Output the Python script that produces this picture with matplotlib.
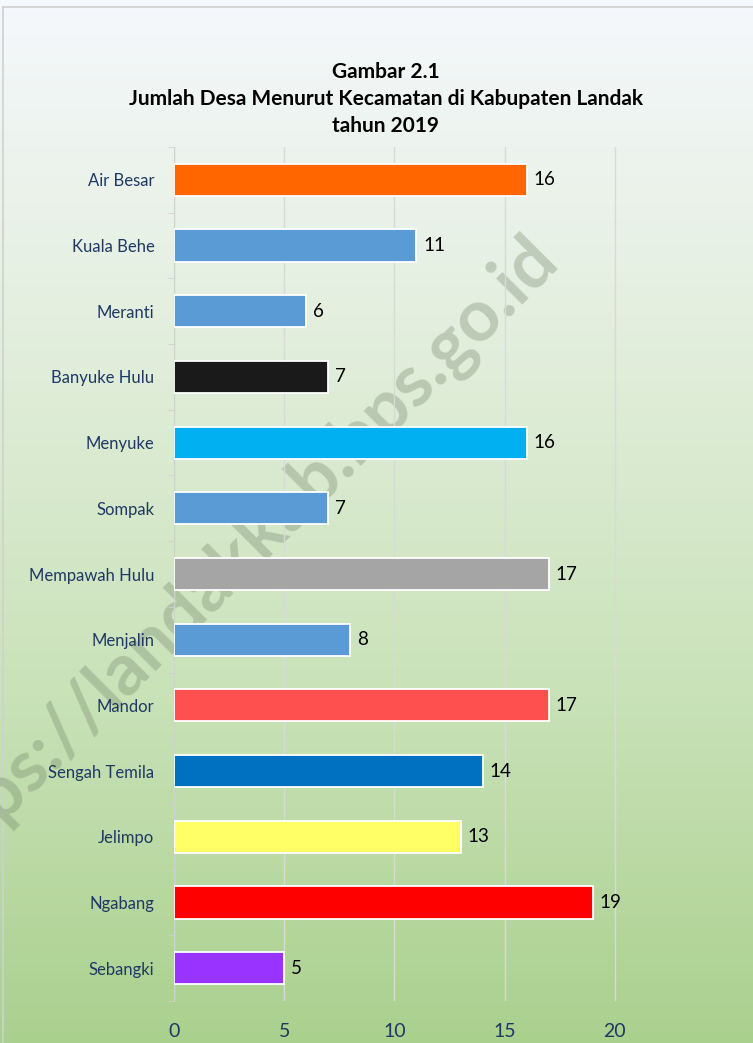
import numpy as np
import matplotlib.pyplot as plt
from matplotlib.colors import LinearSegmentedColormap

# data
kecamatan = ['Air Besar', 'Kuala Behe', 'Meranti', 'Banyuke Hulu', 'Menyuke',
             'Sompak', 'Mempawah Hulu', 'Menjalin', 'Mandor', 'Sengah Temila',
             'Jelimpo', 'Ngabang', 'Sebangki']
jumlah_desa = [16, 11, 6, 7, 16, 7, 17, 8, 17, 14, 13, 19, 5]
bar_colors = ['#ff6600', '#5b9bd5', '#5b9bd5', '#1a1a1a', '#00b0f0',
              '#5b9bd5', '#a5a5a5', '#5b9bd5', '#ff5050', '#0070c0',
              '#ffff66', '#ff0000', '#9933ff']
x_ticks = [0, 5, 10, 15, 20]

plt.rcParams['font.family'] = ['Lato', 'DejaVu Sans']

fig = plt.figure(figsize=(7.53, 10.43), dpi=100)

# gradient background
bg = fig.add_axes([0, 0, 1, 1], zorder=-10)
cmap = LinearSegmentedColormap.from_list('bg', ['#f5f8fc', '#e2eedc', '#c9e2b8', '#aad08e'])
grad = np.linspace(0, 1, 256).reshape(-1, 1)
bg.imshow(grad, aspect='auto', cmap=cmap, extent=[0, 1, 0, 1], origin='upper')
bg.plot([0.004, 0.004], [0, 0.993], color='#d0d0d0', lw=1.2)
bg.plot([0.004, 1], [0.993, 0.993], color='#d0d0d0', lw=1.2)
bg.set_xlim(0, 1)
bg.set_ylim(0, 1)
bg.axis('off')

# watermark (sits behind the bars)
fig.text(560 / 753, 1 - 262 / 1043, 'https://landakkab.bps.go.id', fontsize=52,
         fontweight='bold', color='#6f8066', alpha=0.33, rotation=45,
         rotation_mode='anchor', ha='right', va='baseline', zorder=-5)

ax = fig.add_axes([174 / 753, 1 - 1001 / 1043, 540 / 753, 854 / 1043])
ax.patch.set_alpha(0)
y = np.arange(len(kecamatan))
ax.barh(y, jumlah_desa, height=0.49, color=bar_colors,
        edgecolor='white', linewidth=1.3, zorder=3)
for yi, v in zip(y, jumlah_desa):
    ax.text(v + 0.3, yi, str(v), va='center', ha='left', fontsize=13.5,
            color='black', zorder=4)

ax.set_ylim(len(kecamatan) - 0.5, -0.5)
ax.set_xlim(0, 24.5)
ax.set_xticks(x_ticks)
ax.set_xticklabels([str(t) for t in x_ticks], fontsize=14, color='#1f3864')
ax.set_yticks(y)
ax.set_yticklabels(kecamatan, fontsize=12, color='#1f3864')
ax.set_yticks(np.arange(len(kecamatan) + 1) - 0.5, minor=True)
ax.tick_params(axis='y', which='major', length=0, pad=14)
ax.tick_params(axis='y', which='minor', length=4, color='#d0d0d0')
ax.tick_params(axis='x', length=0, pad=16)
ax.grid(axis='x', color='#d9d9d9', linewidth=1, zorder=0)
for s in ['top', 'right', 'bottom']:
    ax.spines[s].set_visible(False)
ax.spines['left'].set_color('#d0d0d0')

fig.text(386 / 753, 1 - 72 / 1043, 'Gambar 2.1', ha='center', va='center',
         fontsize=15, fontweight='bold')
fig.text(386 / 753, 1 - 99 / 1043, 'Jumlah Desa Menurut Kecamatan di Kabupaten Landak',
         ha='center', va='center', fontsize=15, fontweight='bold')
fig.text(386 / 753, 1 - 126 / 1043, 'tahun 2019', ha='center', va='center',
         fontsize=15, fontweight='bold')

fig.savefig('out.png', dpi=100)
